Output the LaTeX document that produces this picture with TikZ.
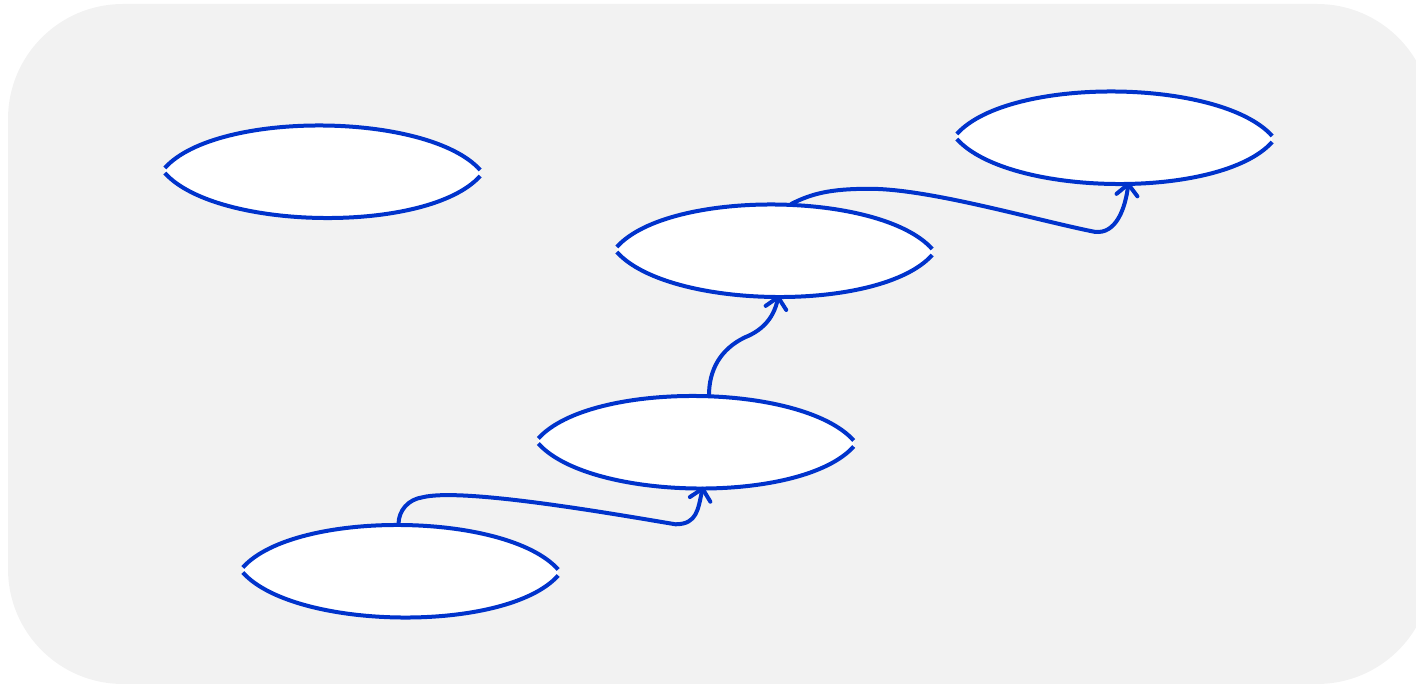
\documentclass[tikz,border=0pt]{standalone}
\usetikzlibrary{calc,arrows.meta}
\definecolor{lensblue}{RGB}{0,51,204}
\definecolor{bggray}{RGB}{242,242,242}
\tikzset{
  lensbox/.style={rectangle, minimum width=315pt, minimum height=92pt, inner sep=0pt, draw=none},
  lensline/.style={draw=lensblue, line width=4pt},
  conn/.style={draw=lensblue, line width=4pt, line cap=round, line join=round,
    -{Straight Barb[length=11pt,width=21pt,line cap=round,line join=round]}}
}
\newcommand\lensat[1]{%
  \fill[white] ($(#1.west)+(0,3)$) .. controls +(52,58) and +(-52,58) .. ($(#1.east)+(0,1)$)
     -- ($(#1.east)+(0,-5)$) .. controls +(-52,-58) and +(52,-58) .. ($(#1.west)+(0,-2)$) -- cycle;
  \draw[lensline] ($(#1.west)+(0,3)$) .. controls +(52,58) and +(-52,58) .. ($(#1.east)+(0,1)$);
  \draw[lensline] ($(#1.west)+(0,-2)$) .. controls +(52,-58) and +(-52,-58) .. ($(#1.east)+(0,-5)$);
}
\begin{document}
\begin{tikzpicture}[x=1pt,y=1pt]
\useasboundingbox (0,0) rectangle (1416,685);
\fill[bggray, rounded corners=115pt] (8,1) rectangle (1432,681);
\node[lensbox] (A) at (322.5,514) {};
\node[lensbox] (B) at (1114.5,548) {};
\node[lensbox] (C) at (774.5,435) {};
\node[lensbox] (D) at (696,243.5) {};
\node[lensbox] (E) at (400.5,114.5) {};
\lensat{A}\lensat{B}\lensat{C}\lensat{D}\lensat{E}
\draw[conn] ($(E.north)+(-2,0)$) .. controls +(0,14) and +(-14,-2) .. ($(E.north)+(22,27)$)
  .. controls +(40,10) and +(-60,10) .. ($(E.north)+(275,0)$)
  .. controls +(22,0) and +(-5,-22) .. ($(D.south)+(7,1)$);
\draw[conn] ($(D.north)+(13,0)$) .. controls +(0,25) and +(-25,-12) .. ($(D.north)+(49,58)$)
  .. controls +(15,6) and +(-5,-25) .. ($(C.south)+(4,1)$);
\draw[conn] ($(C.north)+(17,0)$) .. controls +(20,10) and +(-40,0) .. ($(C.north)+(95,15)$)
  .. controls +(60,0) and +(-60,12) .. ($(C.north)+(320,-28)$)
  .. controls +(22,-3) and +(-3,-25) .. ($(B.south)+(14,1)$);
\end{tikzpicture}
\end{document}
